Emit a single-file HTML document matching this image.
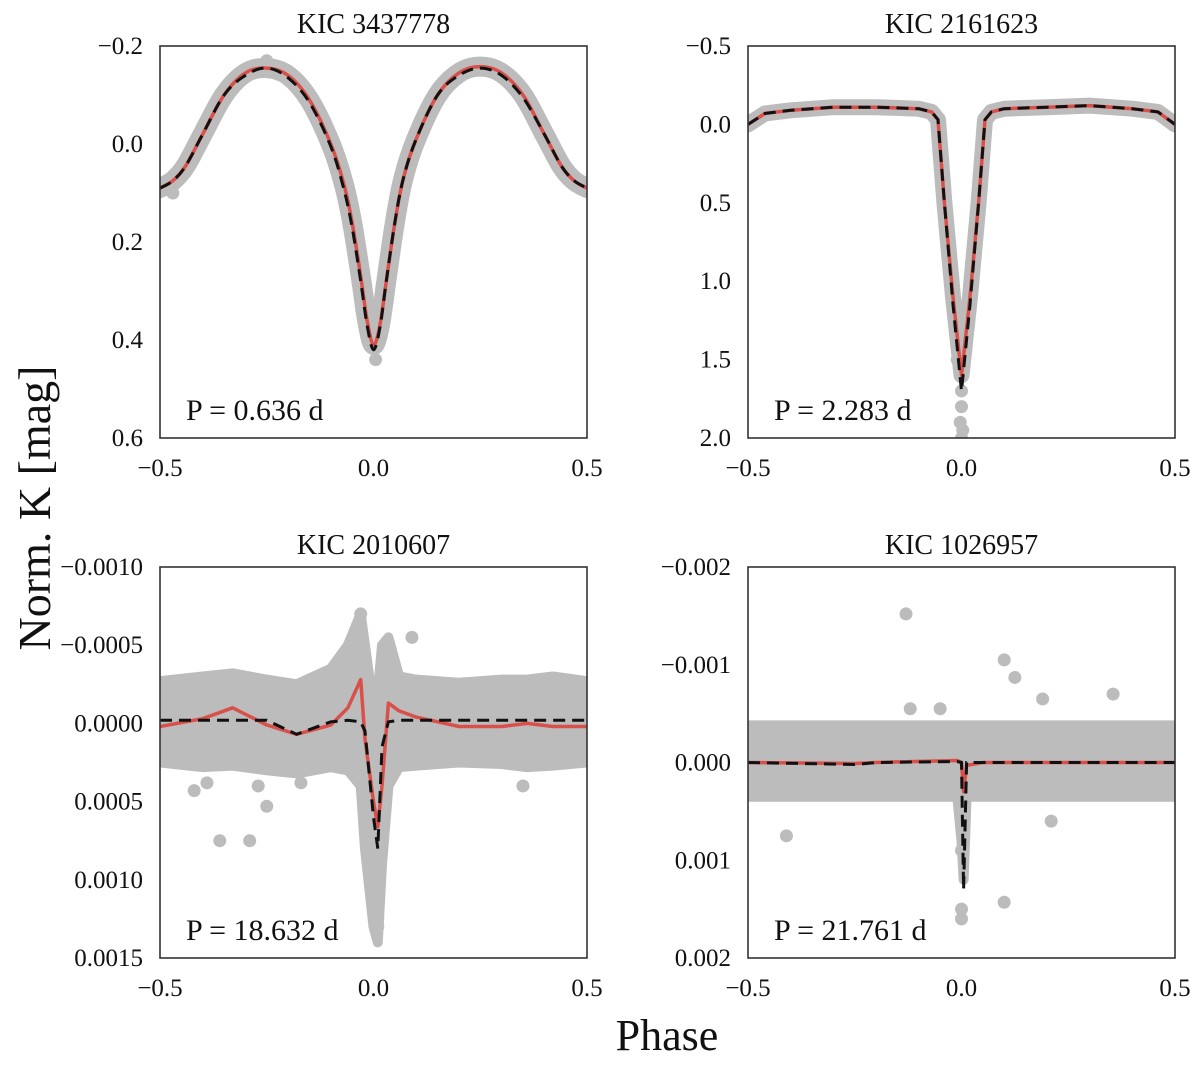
<!DOCTYPE html>
<html><head><meta charset="utf-8"><style>
body{margin:0;background:#fff}
svg text{font-family:"Liberation Serif",serif;fill:#111}
</style></head><body>
<svg id="fig" width="1200" height="1060" viewBox="0 0 1200 1060">
<text x="50" y="508" font-size="46" text-anchor="middle" transform="rotate(-90 50 508)">Norm. K [mag]</text>
<text x="667" y="1050" font-size="44" text-anchor="middle">Phase</text>
</svg>
<script>
// Panel 1: KIC 3437778
const p1Phase=[-0.5,-0.47,-0.44,-0.4,-0.35,-0.3,-0.25,-0.2,-0.15,-0.1,-0.07,-0.05,-0.03,-0.015,0,0.015,0.03,0.05,0.07,0.1,0.15,0.2,0.25,0.3,0.35,0.4,0.44,0.47,0.5];
const p1Red=[0.09,0.075,0.045,-0.02,-0.1,-0.145,-0.155,-0.14,-0.09,0.0,0.08,0.16,0.27,0.36,0.41,0.37,0.28,0.16,0.07,-0.01,-0.1,-0.145,-0.158,-0.145,-0.1,-0.02,0.045,0.075,0.09];
const p1Black=[0.09,0.075,0.045,-0.02,-0.1,-0.14,-0.155,-0.135,-0.085,0.005,0.09,0.17,0.28,0.37,0.42,0.375,0.28,0.16,0.07,-0.01,-0.1,-0.14,-0.155,-0.14,-0.095,-0.02,0.045,0.075,0.09];
const p1Outliers=[[-0.49,0.08],[-0.47,0.1],[-0.25,-0.17],[0.005,0.44],[0.49,0.08]];
// Panel 2: KIC 2161623
const p2Phase=[-0.5,-0.46,-0.4,-0.3,-0.2,-0.1,-0.07,-0.055,-0.04,-0.02,0,0.02,0.04,0.055,0.07,0.1,0.2,0.3,0.4,0.46,0.5];
const p2Red=[0.0,-0.07,-0.09,-0.11,-0.11,-0.1,-0.08,-0.03,0.5,1.1,1.6,1.1,0.5,-0.03,-0.08,-0.1,-0.11,-0.12,-0.1,-0.08,0.0];
const p2Black=[0.0,-0.07,-0.09,-0.11,-0.11,-0.1,-0.08,-0.03,0.5,1.15,1.7,1.15,0.5,-0.03,-0.08,-0.1,-0.11,-0.12,-0.1,-0.08,0.0];
const p2Outliers=[[0,1.7],[0,1.8],[-0.003,1.9],[0.003,1.95],[0,2.0],[-0.01,1.5],[0.01,1.45]];
// Panel 3: KIC 2010607
const p3Phase=[-0.5,-0.4,-0.33,-0.25,-0.18,-0.1,-0.06,-0.03,-0.02,0.0,0.01,0.02,0.035,0.06,0.1,0.2,0.3,0.36,0.42,0.5];
const p3Red=[0.00002,-0.00003,-0.0001,0.00001,0.00007,0.00001,-0.0001,-0.00028,0.0001,0.0005,0.00066,0.0004,-0.00013,-0.00008,-0.00004,0.00002,0.00002,0.0,0.00002,0.00002];
const p3Black=[-0.00002,-0.00002,-0.00002,-0.00002,0.00007,-0.00001,-0.00002,-0.00001,0.00005,0.0006,0.0008,0.00015,-0.00001,-0.00002,-0.00002,-0.00002,-0.00002,-0.00002,-0.00002,-0.00002];
const p3Upper=[-0.00027,-0.0003,-0.00032,-0.00028,-0.00025,-0.00035,-0.0005,-0.0007,-0.0005,-0.0001,-0.0002,-0.0005,-0.00055,-0.0003,-0.00028,-0.00026,-0.00028,-0.00028,-0.0003,-0.00027];
const p3Lower=[0.00025,0.00028,0.00027,0.0003,0.00032,0.00028,0.0003,0.0004,0.0008,0.0013,0.0014,0.0009,0.0004,0.00028,0.00027,0.00025,0.00026,0.00028,0.00027,0.00025];
const p3Outliers=[[-0.42,0.00043],[-0.39,0.00038],[-0.36,0.00075],[-0.29,0.00075],[-0.27,0.0004],[-0.25,0.00053],[-0.17,0.00038],[-0.03,-0.0007],[0.09,-0.00055],[0.35,0.0004],[0.01,0.00125],[0.01,0.0013]];
// Panel 4: KIC 1026957
const p4Phase=[-0.5,-0.25,-0.2,-0.01,0,0.005,0.012,0.05,0.3,0.5];
const p4Red=[0.0,0.00001,0.0,-0.00002,0.0,0.0003,0.00003,0.0,0.0,0.0];
const p4Black=[0.0,0.00002,0.0,-0.00001,0.0,0.0013,0.0,0.0,0.0,0.0];
const p4Upper=[-0.00038,-0.00038,-0.00038,-0.00038,-0.00038,-0.00038,-0.00038,-0.00038,-0.00038,-0.00038];
const p4Lower=[0.00035,0.00035,0.00035,0.00035,0.0008,0.0012,0.00035,0.00035,0.00035,0.00035];
const p4Outliers=[[-0.13,-0.00152],[-0.05,-0.00055],[-0.12,-0.00055],[0.1,-0.00105],[0.125,-0.00087],[-0.41,0.00075],[0.21,0.0006],[0.1,0.00143],[0.355,-0.0007],[0.0,0.0016],[0.0,0.0015],[0.0,0.0009],[0.19,-0.00065]];

const xTickVals=[-0.5,0.0,0.5];
const xTickLabels=["\u22120.5","0.0","0.5"];
const panels=[
 {name:"kic-3437778",title:"KIC 3437778",period:"P = 0.636 d",x0:160,x1:587,y0:46,y1:438,ymin:-0.2,ymax:0.6,smooth:true,
  yticks:[-0.2,0.0,0.2,0.4,0.6],ylabels:["\u22120.2","0.0","0.2","0.4","0.6"],phase:p1Phase,red:p1Red,black:p1Black,band:20,outliers:p1Outliers},
 {name:"kic-2161623",title:"KIC 2161623",period:"P = 2.283 d",x0:748,x1:1175,y0:46,y1:438,ymin:-0.5,ymax:2.0,smooth:false,
  yticks:[-0.5,0.0,0.5,1.0,1.5,2.0],ylabels:["\u22120.5","0.0","0.5","1.0","1.5","2.0"],phase:p2Phase,red:p2Red,black:p2Black,band:16,outliers:p2Outliers},
 {name:"kic-2010607",title:"KIC 2010607",period:"P = 18.632 d",x0:160,x1:587,y0:567,y1:958,ymin:-0.001,ymax:0.0015,smooth:false,
  yticks:[-0.001,-0.0005,0,0.0005,0.001,0.0015],ylabels:["\u22120.0010","\u22120.0005","0.0000","0.0005","0.0010","0.0015"],phase:p3Phase,red:p3Red,black:p3Black,upper:p3Upper,lower:p3Lower,outliers:p3Outliers},
 {name:"kic-1026957",title:"KIC 1026957",period:"P = 21.761 d",x0:748,x1:1175,y0:567,y1:958,ymin:-0.002,ymax:0.002,smooth:false,
  yticks:[-0.002,-0.001,0,0.001,0.002],ylabels:["\u22120.002","\u22120.001","0.000","0.001","0.002"],phase:p4Phase,red:p4Red,black:p4Black,upper:p4Upper,lower:p4Lower,outliers:p4Outliers}
];
const svg=document.getElementById('fig');
const NS="http://www.w3.org/2000/svg";
function mk(tag,attrs,parent){const e=document.createElementNS(NS,tag);for(const k in attrs)e.setAttribute(k,attrs[k]);parent.appendChild(e);return e;}
function pathD(P,smooth){
 if(!smooth) return 'M'+P.map(p=>p[0].toFixed(1)+','+p[1].toFixed(1)).join(' L');
 let d='M'+P[0][0]+','+P[0][1];
 for(let i=0;i<P.length-1;i++){
  const p0=P[Math.max(0,i-1)],p1=P[i],p2=P[i+1],p3=P[Math.min(P.length-1,i+2)];
  const c1=[p1[0]+(p2[0]-p0[0])/6,p1[1]+(p2[1]-p0[1])/6];
  const c2=[p2[0]-(p3[0]-p1[0])/6,p2[1]-(p3[1]-p1[1])/6];
  d+=' C'+c1[0].toFixed(1)+','+c1[1].toFixed(1)+' '+c2[0].toFixed(1)+','+c2[1].toFixed(1)+' '+p2[0].toFixed(1)+','+p2[1].toFixed(1);
 }
 return d;
}
panels.forEach(p=>{
 const g=mk('g',{},svg);
 
 
 const sx=v=>p.x0+(v+0.5)*(p.x1-p.x0);
 const sy=v=>p.y0+(v-p.ymin)/(p.ymax-p.ymin)*(p.y1-p.y0);
 const cid='clip-'+p.name;
 const cp=mk('clipPath',{id:cid},g);mk('rect',{x:p.x0,y:p.y0-6,width:p.x1-p.x0,height:p.y1-p.y0+6},cp);
 const data=mk('g',{'clip-path':'url(#'+cid+')'},g);
 const pts=(ys)=>p.phase.map((x,i)=>[sx(x),sy(ys[i])]);
 if(p.upper){
  const poly=p.phase.map((x,i)=>sx(x)+','+sy(p.upper[i])).concat(p.phase.slice().reverse().map((x,j)=>{const i=p.phase.length-1-j;return sx(x)+','+sy(p.lower[i]);})).join(' ');
  const b=mk('polygon',{points:poly,fill:'#bcbcbc',stroke:'#bcbcbc','stroke-width':10,'stroke-linejoin':'round'},data);
  
  
 } else {
  const b=mk('path',{d:pathD(pts(p.red),p.smooth),fill:'none',stroke:'#bcbcbc','stroke-width':p.band,'stroke-linejoin':'round','stroke-linecap':'round'},data);
  
  
 }
 p.outliers.forEach(o=>{
  const c=mk('circle',{cx:sx(o[0]),cy:sy(o[1]),r:6.5,fill:'#bcbcbc'},data);
  
  
 });
 const r=mk('path',{d:pathD(pts(p.red),p.smooth),fill:'none',stroke:'#d9504a','stroke-width':3.5,'stroke-linejoin':'round'},data);
 
 
 const k=mk('path',{d:pathD(pts(p.black),p.smooth),fill:'none',stroke:'#111','stroke-width':3,'stroke-dasharray':'12,7'},data);
 
 
 const fr=mk('rect',{x:p.x0,y:p.y0,width:p.x1-p.x0,height:p.y1-p.y0,fill:'none',stroke:'#333','stroke-width':1.6},g);
 
 
 const t=mk('text',{x:(p.x0+p.x1)/2,y:p.y0-13,'font-size':28,'text-anchor':'middle'},g);t.textContent=p.title;
 
 
 const pl=mk('text',{x:p.x0+26,y:p.y1-18,'font-size':30},g);pl.textContent=p.period;
 
 
 p.yticks.forEach((v,i)=>{
  const tt=mk('text',{x:p.x0-17,y:sy(v)+8,'font-size':25,'text-anchor':'end'},g);tt.textContent=p.ylabels[i];
  
  
 });
 xTickVals.forEach((v,i)=>{
  const tt=mk('text',{x:sx(v),y:p.y1+38,'font-size':25,'text-anchor':'middle'},g);tt.textContent=xTickLabels[i];
  
  
 });
});
</script>
</body></html>
